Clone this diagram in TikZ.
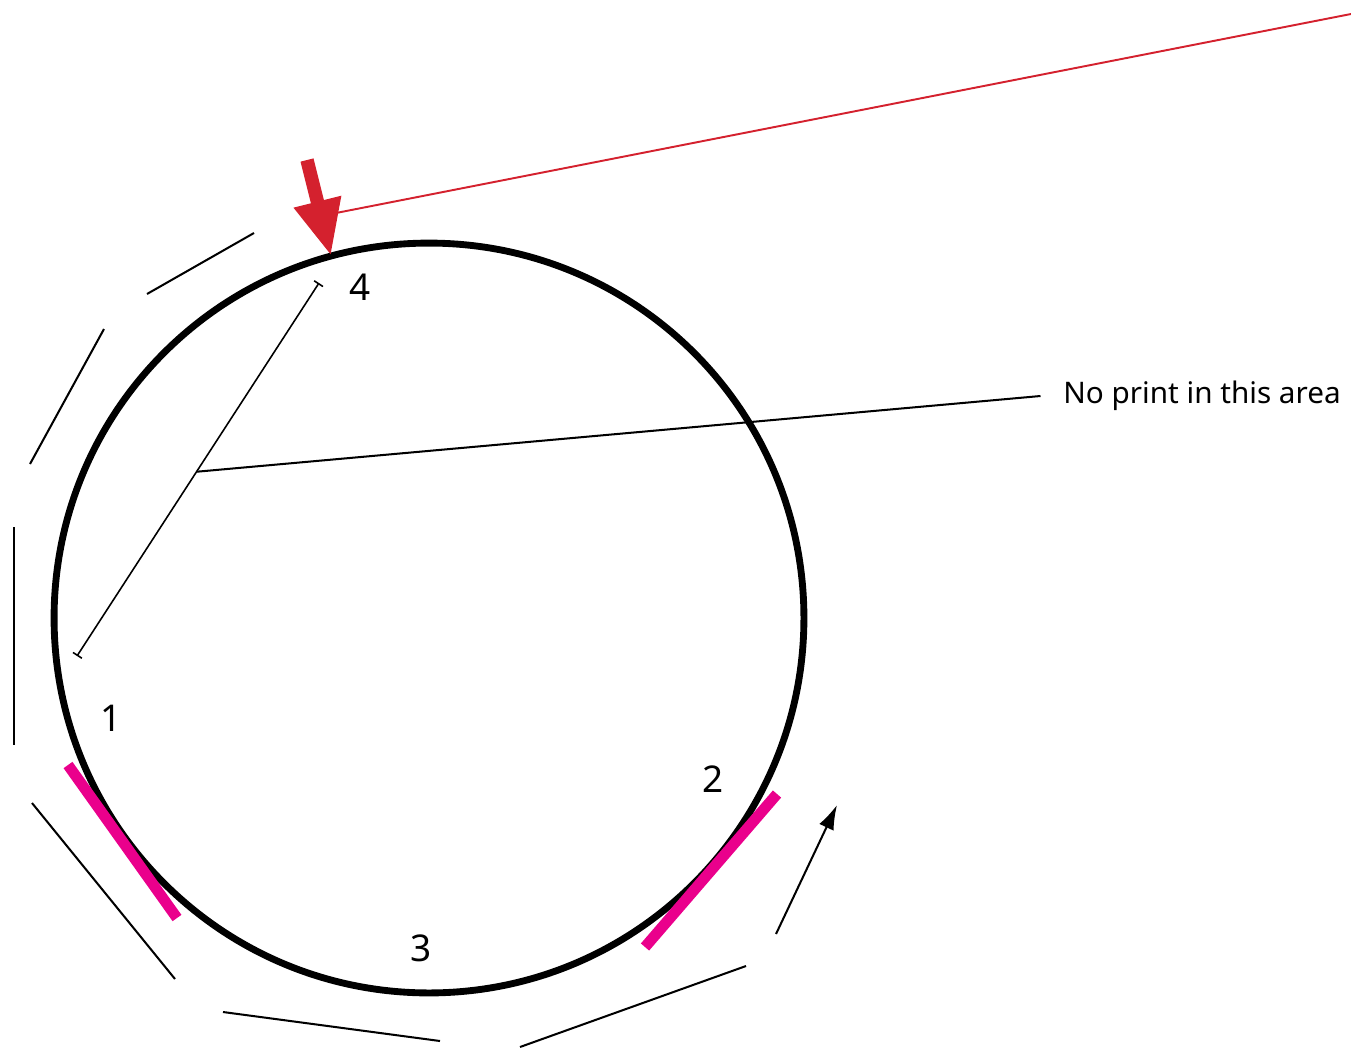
\documentclass[tikz,border=0pt]{standalone}
\usepackage{fontspec}
\setmainfont{Noto Sans}
\usepackage{tikz}
\usetikzlibrary{arrows.meta, positioning, calc}
\definecolor{myred}{RGB}{212,33,46}
\definecolor{mymagenta}{RGB}{234,0,140}
\definecolor{mydark}{RGB}{0,0,0}
\tikzset{
  ring/.style={circle, draw=mydark, line width=3.9pt, minimum size=15cm, inner sep=0pt},
  guide/.style={line width=1.15pt, color=mydark},
  strip/.style={line width=6.2pt, color=mymagenta},
  lbl/.style={font=\fontsize{21}{24}\selectfont, inner sep=0pt}
}
\begin{document}
\begin{tikzpicture}[x=0.02cm, y=-0.02cm,
  span/.style={line width=0.9pt, color=mydark, {Bar[width=6pt]}-{Bar[width=6pt]}},
  pointer/.style={line width=7.6pt, color=myred, -{Triangle[length=1.12cm, width=0.9cm]}},
  note/.style={font=\fontsize{16.9}{20}\selectfont, anchor=west, inner sep=0pt}
]
\useasboundingbox (0,0) rectangle (1351,1048);

\node[ring] (ring) at (429,618) {};

% magenta strips touching the ring
\draw[strip] (68,765) -- (177,918);
\draw[strip] (777,794) -- (645,947);

% red pointer from the top right
\coordinate (tail) at (1351,14);
\coordinate (shaft) at (307,160);
\coordinate (tip) at (331,256);
\coordinate (joint) at (336,213);
\draw[pointer] (shaft) -- (tip);
\draw[line width=1.1pt, color=myred] (tail) -- (joint);

% no print span and its leader
\coordinate (spantop) at (319,283);
\coordinate (spanbot) at (77,656);
\draw[span] (spantop) -- (spanbot);
\coordinate (foot) at ($(spantop)!0.506!(spanbot)$);
\node[note] (area) at (1063,396) {No print in this area};
\draw[guide] ([xshift=-0.45cm]area.west) -- (foot);

\node[lbl] (four)  at (360,287) {4};
\node[lbl] (one)   at (111,718) {1};
\node[lbl] (two)   at (713,779) {2};
\node[lbl] (three) at (421,948) {3};

% outer path segments
\draw[guide] (147,294) -- (254,233);
\draw[guide] (104,329) -- (30,464);
\draw[guide] (14,527) -- (14,745);
\draw[guide] (32,803) -- (175,979);
\draw[guide] (223,1012) -- (440,1041);
\draw[guide] (520,1047) -- (746,966);
\draw[guide, -{Latex[length=14pt, width=9pt]}] (776,934) -- (837,805);
\end{tikzpicture}
\end{document}
